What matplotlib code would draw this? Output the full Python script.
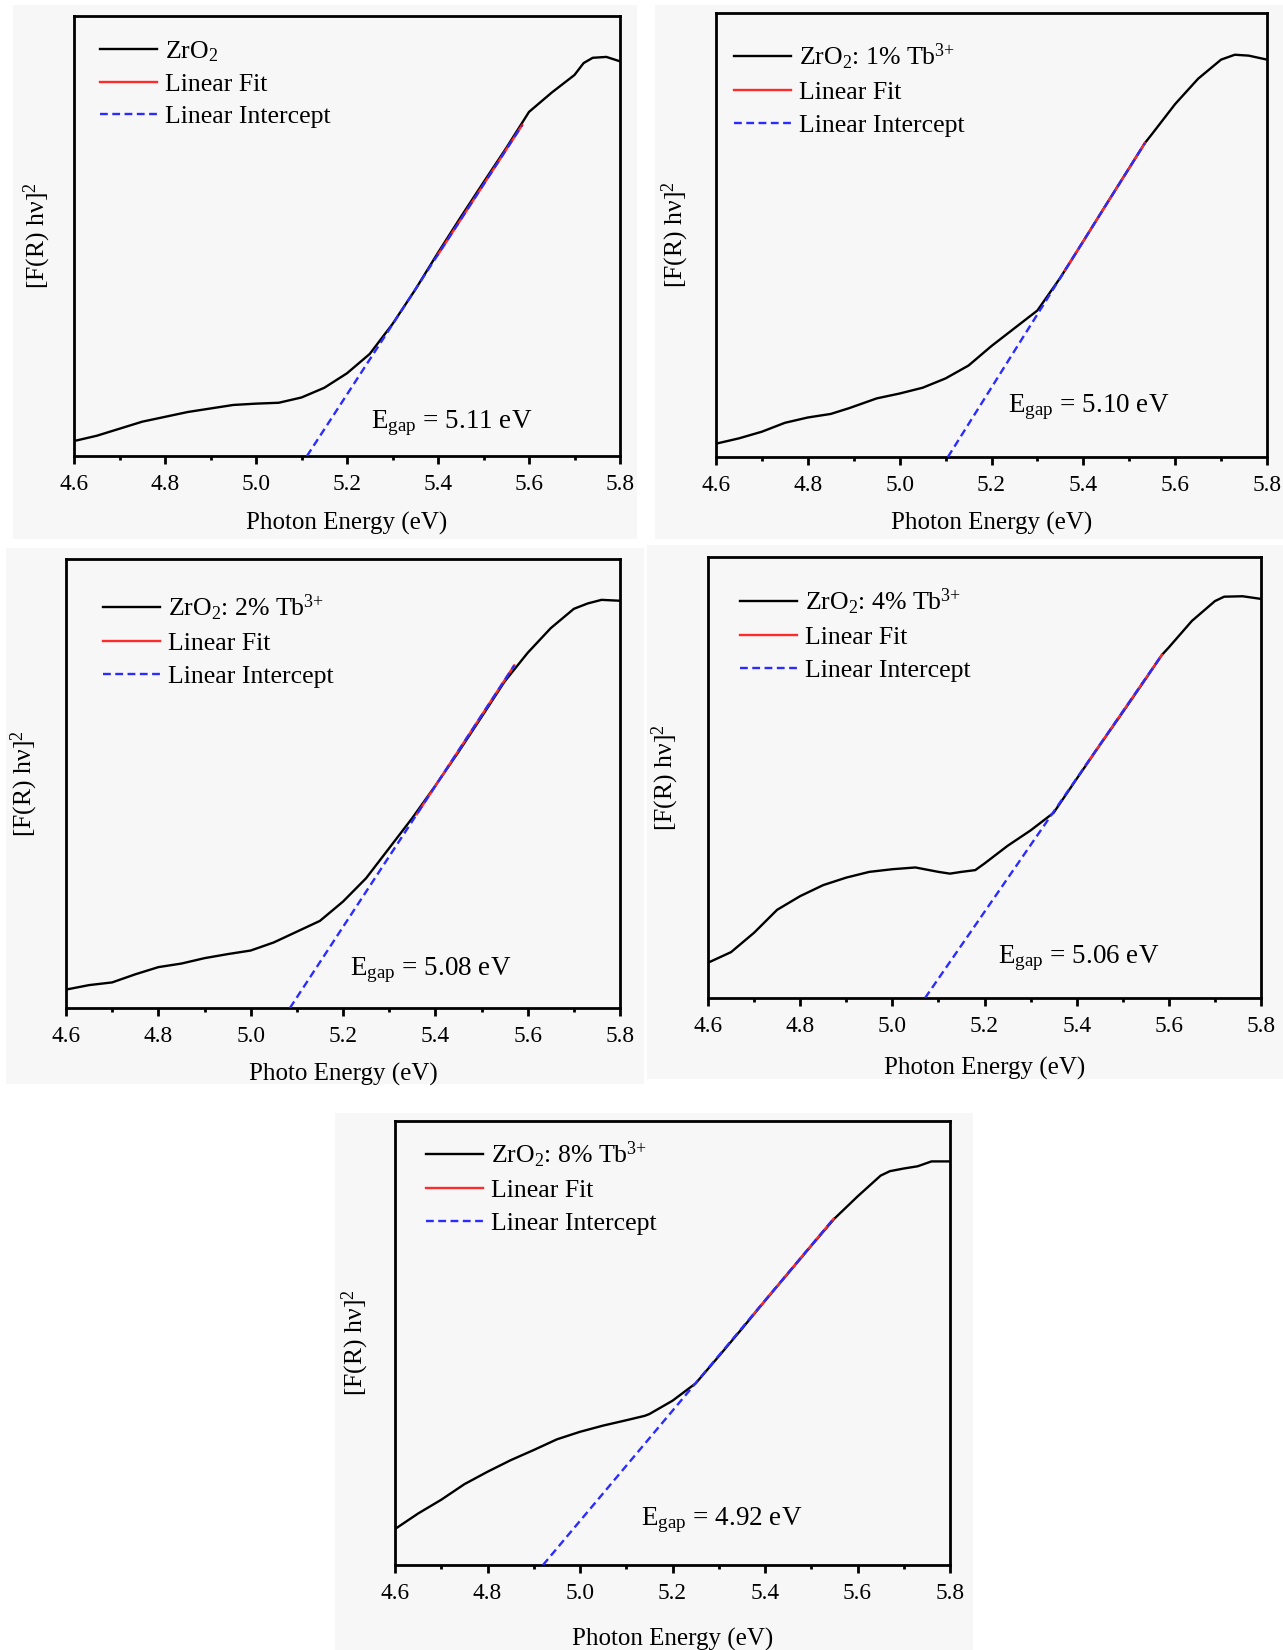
import matplotlib
matplotlib.use("Agg")
import matplotlib.pyplot as plt
from matplotlib.patches import Rectangle

plt.rcParams['font.family'] = ['Liberation Serif', 'DejaVu Serif']
plt.rcParams['mathtext.fontset'] = 'custom'
plt.rcParams['mathtext.rm'] = 'Liberation Serif'
plt.rcParams['mathtext.it'] = 'Liberation Serif:italic'
plt.rcParams['mathtext.bf'] = 'Liberation Serif:bold'

# ---------------- data (y normalised 0..1) ----------------
energy_p1 = [4.60, 4.65, 4.70, 4.75, 4.80, 4.85, 4.90, 4.95, 5.00, 5.05, 5.10, 5.15,
             5.20, 5.25, 5.30, 5.35, 5.40, 5.45, 5.50, 5.55, 5.60, 5.65, 5.70, 5.72,
             5.74, 5.77, 5.80]
signal_p1 = [0.034, 0.046, 0.062, 0.078, 0.089, 0.100, 0.108, 0.116, 0.119, 0.121, 0.133, 0.155,
             0.188, 0.232, 0.300, 0.378, 0.462, 0.543, 0.622, 0.700, 0.782, 0.826, 0.866, 0.893,
             0.905, 0.907, 0.897]

energy_p2 = [4.60, 4.65, 4.70, 4.75, 4.80, 4.85, 4.89, 4.95, 5.00, 5.05, 5.10, 5.15,
             5.20, 5.25, 5.30, 5.35, 5.40, 5.45, 5.50, 5.534, 5.55, 5.60, 5.65, 5.70,
             5.73, 5.76, 5.80]
signal_p2 = [0.030, 0.042, 0.057, 0.077, 0.089, 0.097, 0.110, 0.132, 0.143, 0.156, 0.177, 0.206,
             0.250, 0.290, 0.330, 0.404, 0.486, 0.569, 0.651, 0.707, 0.728, 0.795, 0.852, 0.895,
             0.906, 0.904, 0.895]

energy_p3 = [4.60, 4.65, 4.70, 4.75, 4.80, 4.85, 4.90, 4.95, 5.00, 5.05, 5.10, 5.15,
             5.20, 5.25, 5.30, 5.35, 5.40, 5.45, 5.50, 5.55, 5.60, 5.65, 5.70, 5.73,
             5.76, 5.80]
signal_p3 = [0.041, 0.051, 0.057, 0.075, 0.091, 0.099, 0.111, 0.120, 0.128, 0.146, 0.170, 0.194,
             0.237, 0.289, 0.356, 0.423, 0.495, 0.570, 0.648, 0.727, 0.791, 0.846, 0.889, 0.901,
             0.909, 0.907]

energy_p4 = [4.60, 4.65, 4.70, 4.75, 4.80, 4.85, 4.90, 4.95, 5.00, 5.05, 5.10, 5.125,
             5.15, 5.18, 5.20, 5.25, 5.30, 5.35, 5.40, 5.45, 5.50, 5.55, 5.585, 5.60,
             5.65, 5.70, 5.72, 5.76, 5.80]
signal_p4 = [0.080, 0.104, 0.148, 0.200, 0.231, 0.256, 0.273, 0.286, 0.292, 0.296, 0.286, 0.282,
             0.286, 0.290, 0.305, 0.345, 0.380, 0.420, 0.497, 0.573, 0.648, 0.724, 0.778, 0.795,
             0.855, 0.900, 0.910, 0.911, 0.905]

energy_p5 = [4.60, 4.65, 4.70, 4.75, 4.80, 4.85, 4.90, 4.95, 5.00, 5.05, 5.10, 5.14,
             5.15, 5.20, 5.25, 5.30, 5.35, 5.40, 5.45, 5.50, 5.55, 5.60, 5.65, 5.67,
             5.70, 5.73, 5.76, 5.80]
signal_p5 = [0.081, 0.116, 0.147, 0.182, 0.210, 0.236, 0.259, 0.283, 0.300, 0.314, 0.326, 0.336,
             0.340, 0.370, 0.409, 0.470, 0.532, 0.595, 0.657, 0.719, 0.780, 0.830, 0.877, 0.887,
             0.893, 0.898, 0.909, 0.909]

sample_labels = ['ZrO$_2$', 'ZrO$_2$: 1% Tb$^{3{+}}$', 'ZrO$_2$: 2% Tb$^{3{+}}$',
                 'ZrO$_2$: 4% Tb$^{3{+}}$', 'ZrO$_2$: 8% Tb$^{3{+}}$']
band_gaps = [5.11, 5.10, 5.08, 5.06, 4.92]            # labelled values (eV)
intercepts = [5.112, 5.105, 5.085, 5.071, 4.920]      # where dashed line meets baseline
slopes = [1.59, 1.648, 1.57, 1.514, 1.241]
fit_start = [5.40, 5.36, 5.36, 5.42, 5.37]
fit_end = [5.585, 5.534, 5.571, 5.585, 5.548]
xlabels = ['Photon Energy (eV)', 'Photon Energy (eV)', 'Photo Energy (eV)',
           'Photon Energy (eV)', 'Photon Energy (eV)']
xticks = [4.6, 4.8, 5.0, 5.2, 5.4, 5.6, 5.8]
xtick_labels = ['4.6', '4.8', '5.0', '5.2', '5.4', '5.6', '5.8']

energies = [energy_p1, energy_p2, energy_p3, energy_p4, energy_p5]
signals = [signal_p1, signal_p2, signal_p3, signal_p4, signal_p5]

# ---------------- layout (pixels) ----------------
W, H = 1283, 1650
axes_px = [(74, 620, 16, 456), (716, 1267, 13, 457), (66, 620, 559, 1008),
           (708, 1261, 557, 998), (395, 950, 1121, 1565)]
bg_px = [(13, 637, 5, 539), (655, 1283, 5, 539), (6, 644, 548, 1084),
         (647, 1283, 545, 1079), (335, 973, 1113, 1650)]
legend_px = [(100, 39), (734, 42), (103, 593), (740, 587), (426, 1140)]
egap_pos = [(5.252, 0.074), (5.236, 0.112), (5.216, 0.084), (5.229, 0.091), (5.132, 0.101)]
ylabel_off = [21, 25, 26, 27, 24]
xlabel_off = [56, 55, 55, 59, 63]

bgc = '#f7f7f7'
fig = plt.figure(figsize=(W / 100, H / 100), dpi=100)
fig.patch.set_facecolor('white')

for (l, r, t, b) in bg_px:
    fig.patches.append(Rectangle((l / W, 1 - b / H), (r - l) / W, (b - t) / H,
                                 transform=fig.transFigure, facecolor=bgc,
                                 edgecolor='none', zorder=-10))

for i in range(5):
    l, r, t, b = axes_px[i]
    ax = fig.add_axes([l / W, 1 - b / H, (r - l) / W, (b - t) / H])
    ax.set_zorder(2)
    ax.set_facecolor(bgc)
    ax.plot(energies[i], signals[i], color='black', lw=1.7, label=sample_labels[i], zorder=3)
    fx = [fit_start[i], fit_end[i]]
    fy = [slopes[i] * (x - intercepts[i]) for x in fx]
    ax.plot(fx, fy, color='#ff2a2a', lw=1.7, label='Linear Fit', zorder=4)
    dx = [intercepts[i], fit_end[i]]
    dy = [slopes[i] * (x - intercepts[i]) for x in dx]
    ax.plot(dx, dy, color='#2b2bff', lw=1.7, ls=(0, (3.3, 1.9)), label='Linear Intercept', zorder=5)

    ax.set_xlim(4.6, 5.8)
    ax.set_ylim(0, 1)
    ax.set_xticks(xticks)
    ax.set_xticklabels(xtick_labels)
    ax.set_xticks([4.7, 4.9, 5.1, 5.3, 5.5, 5.7], minor=True)
    ax.set_yticks([])
    ax.tick_params(axis='x', which='major', direction='out', length=6, width=2,
                   labelsize=16.8, pad=7)
    ax.tick_params(axis='x', which='minor', direction='out', length=3, width=2)
    for s in ax.spines.values():
        s.set_linewidth(2.0)

    ax.set_xlabel(xlabels[i], fontsize=18)
    ax.xaxis.set_label_coords(0.5, -xlabel_off[i] / (b - t))
    ax.set_ylabel('[F(R) h\u03bd]$^2$', fontsize=18.5)
    ax.yaxis.set_label_coords(-ylabel_off[i] / (r - l), 0.5)

    lx, ly = legend_px[i]
    ax.legend(loc='upper left',
              bbox_to_anchor=((lx - l) / (r - l), 1 - (ly - t) / (b - t)),
              frameon=False, fontsize=18.5, handlelength=2.2, handletextpad=0.32,
              borderpad=0, borderaxespad=0, labelspacing=0.36)

    ex, ey = egap_pos[i]
    ax.text(ex, ey, 'E$_{\\mathrm{gap}}$ = %.2f eV' % band_gaps[i], fontsize=19.5,
            ha='left', va='center')

fig.savefig('out.png', dpi=100, facecolor='white')
